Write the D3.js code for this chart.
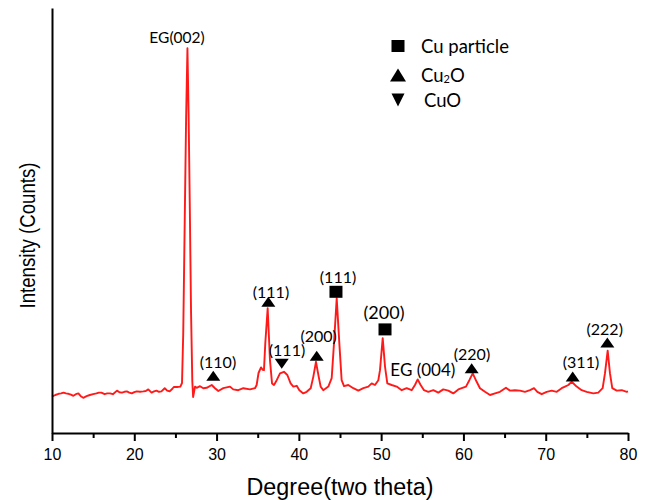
<!DOCTYPE html>
<html>
<head>
<meta charset="utf-8">
<script src="https://cdn.jsdelivr.net/npm/d3@7"></script>
<style>
  html, body { margin: 0; padding: 0; background: #ffffff; }
  svg { display: block; }
</style>
</head>
<body>
<script>
// ---- Data ----
const twoTheta = [
  10.0,10.4,10.8,11.1,11.4,11.7,12.0,12.3,12.6,12.9,13.2,13.5,13.8,14.2,14.6,15.0,15.4,15.7,16.0,16.4,
  16.7,17.05,17.4,17.9,18.2,18.5,18.8,19.1,19.4,19.7,20.0,20.3,20.7,21.1,21.4,21.7,22.1,22.4,22.7,23.0,
  23.3,23.7,24.0,24.3,24.6,24.8,25.2,25.6,25.8,25.95,26.15,26.3,26.46,26.6,26.75,26.9,27.05,27.15,27.38,27.58,
  27.99,28.39,28.8,29.41,29.81,30.21,30.82,31.63,32.03,32.64,33.25,34.06,34.67,34.87,35.1,35.4,35.6,35.76,35.92,36.21,
  36.49,36.74,36.98,37.31,37.71,38.19,38.6,39.0,39.33,39.74,40.06,40.54,40.95,41.44,41.76,42.08,42.41,42.65,42.97,43.58,
  43.99,44.27,44.6,44.92,45.2,45.49,46.01,46.62,47.23,47.84,48.44,48.85,49.25,49.66,49.86,50.19,50.47,50.75,51.28,51.89,
  52.5,53.1,53.71,54.11,54.44,54.8,55.21,55.73,56.34,56.95,57.55,58.16,58.77,59.38,59.79,60.31,60.72,61.13,61.61,62.01,
  62.62,63.23,63.84,64.44,65.17,65.66,66.27,66.87,67.48,68.09,68.58,68.98,69.51,70.12,70.73,71.34,71.94,72.34,72.75,73.16,
  73.76,74.37,74.98,75.79,76.39,76.92,77.2,77.53,77.81,78.09,78.63,79.24,79.85,80.0
];
const intensity = [
  91,95,98,99,101,99,98,96,93,97,99,92,88,92,95,97,99,101,101,97,
  99,99,97,106,102,101,103,104,101,99,102,104,103,104,105,109,101,104,106,103,
  104,112,106,104,110,115,115,116,125,250,560,790,962,800,560,300,130,90,116,113,
  117,112,113,120,112,105,112,116,109,107,112,109,112,120,150,164,158,157,224,312,
  182,124,120,132,149,153,145,124,116,118,107,99,103,112,141,178,141,116,107,116,
  137,224,337,224,132,117,120,112,106,112,116,124,120,132,157,237,166,124,120,116,
  107,112,107,120,134,120,107,103,107,101,109,106,99,109,112,116,132,149,128,112,
  103,95,99,103,113,106,107,106,103,107,112,103,97,103,106,103,112,116,120,128,
  116,107,103,99,101,112,149,206,149,112,106,107,103,104
];

const xTickValues = [10, 20, 30, 40, 50, 60, 70, 80];
const xMinorTickValues = [15, 25, 35, 45, 55, 65, 75];

// peak markers
const markerPhase  = ["Cu2O", "Cu2O", "CuO", "Cu2O", "Cu", "Cu", "Cu2O", "Cu2O", "Cu2O"];
const markerTheta  = [29.6, 36.29, 37.92, 42.17, 44.51, 50.47, 61.0, 73.28, 77.49];
const markerCounts = [143, 328, 173, 193, 353, 259, 162, 141, 226];
const peakLabel    = ["(110)", "(111)", "(111)", "(200)", "(111)", "(200)", "(220)", "(311)", "(222)"];
const labelTheta   = [30.17, 36.61, 38.56, 42.41, 44.76, 50.35, 61.04, 74.29, 77.17];
const labelCounts  = [178, 353, 208, 245, 391, 303, 199, 178, 262];

// graphite labels
const egLabel  = ["EG(002)", "EG (004)"];
const egTheta  = [25.19, 55.07];
const egCounts = [990, 158];

// legend
const legendPhase = ["Cu", "Cu2O", "CuO"];
const legendText  = ["Cu particle", "Cu2O", "CuO"];

// ---- Drawing ----
const W = 648, H = 500;
const svg = d3.select("body").append("svg").attr("width", W).attr("height", H);

const x = d3.scaleLinear().domain([10, 80]).range([52, 628]);
const y = d3.scaleLinear().domain([0, 1062.5]).range([433, 8]);

const annFont = "Lato, 'Open Sans', sans-serif";
const axFont = "'Liberation Sans', Arial, sans-serif";

// curve
const line = d3.line().x((d, i) => x(twoTheta[i])).y((d, i) => y(intensity[i]));
svg.append("path")
  .datum(intensity)
  .attr("d", line)
  .attr("fill", "none")
  .attr("stroke", "#ff1a1a")
  .attr("stroke-width", 1.9)
  .attr("stroke-linejoin", "round");

// x axis
const gx = svg.append("g").attr("transform", `translate(0,${y(0)})`)
  .call(d3.axisBottom(x).tickValues(xTickValues).tickSize(8).tickSizeOuter(0).tickPadding(8).tickFormat(d3.format("d")));
gx.select(".domain").attr("stroke", "#000").attr("stroke-width", 2);
gx.selectAll(".tick line").attr("stroke", "#000").attr("stroke-width", 2);
gx.selectAll(".tick text").attr("font-family", axFont).attr("font-size", 16).attr("fill", "#000");

const gxm = svg.append("g").attr("transform", `translate(0,${y(0)})`)
  .call(d3.axisBottom(x).tickValues(xMinorTickValues).tickSize(5).tickFormat(""));
gxm.select(".domain").remove();
gxm.selectAll(".tick line").attr("stroke", "#000").attr("stroke-width", 2);

// y axis (no ticks)
const gy = svg.append("g").attr("transform", `translate(${x(10)},0)`)
  .call(d3.axisLeft(y).tickValues([]).tickSizeOuter(0));
gy.select(".domain").attr("stroke", "#000").attr("stroke-width", 2);

// axis titles
svg.append("text")
  .attr("x", (x(10) + x(80)) / 2).attr("y", 495)
  .attr("text-anchor", "middle")
  .attr("font-family", axFont).attr("font-size", 23)
  .attr("textLength", 187).attr("lengthAdjust", "spacingAndGlyphs")
  .text("Degree(two theta)");

svg.append("text")
  .attr("transform", "translate(35,235.5) rotate(-90)")
  .attr("text-anchor", "middle")
  .attr("font-family", axFont).attr("font-size", 22)
  .attr("textLength", 146).attr("lengthAdjust", "spacingAndGlyphs")
  .text("Intensity (Counts)");

// marker shapes
function drawMarker(g, phase, cx, cy, w, h) {
  if (phase === "Cu") {
    g.append("rect").attr("x", cx - w / 2).attr("y", cy - h / 2).attr("width", w).attr("height", h).attr("fill", "#000");
  } else if (phase === "Cu2O") {
    g.append("path").attr("d", `M${cx - w / 2},${cy + h / 2}L${cx + w / 2},${cy + h / 2}L${cx},${cy - h / 2}Z`).attr("fill", "#000");
  } else {
    g.append("path").attr("d", `M${cx - w / 2},${cy - h / 2}L${cx + w / 2},${cy - h / 2}L${cx},${cy + h / 2}Z`).attr("fill", "#000");
  }
}

const gm = svg.append("g");
markerPhase.forEach((p, i) => {
  const w = p === "Cu" ? 13 : 14;
  const h = p === "Cu" ? 12 : 10;
  drawMarker(gm, p, x(markerTheta[i]), y(markerCounts[i]), w, h);
  gm.append("text")
    .attr("x", x(labelTheta[i])).attr("y", y(labelCounts[i]))
    .attr("text-anchor", "middle").attr("dominant-baseline", "central")
    .attr("font-family", annFont).attr("font-size", (p === "Cu" && peakLabel[i] === "(200)") ? 18 : 16)
    .attr("fill", "#000")
    .text(peakLabel[i]);
});

egLabel.forEach((t, i) => {
  gm.append("text")
    .attr("x", x(egTheta[i])).attr("y", y(egCounts[i]))
    .attr("text-anchor", "middle").attr("dominant-baseline", "central")
    .attr("font-family", annFont).attr("font-size", i === 1 ? 17 : 15.5)
    .attr("fill", "#000")
    .text(t);
});

// legend
const legY = [46, 75, 100];
const gl = svg.append("g");
legendPhase.forEach((p, i) => {
  const w = p === "Cu" ? 13 : (p === "Cu2O" ? 16 : 13);
  const h = p === "Cu" ? 12 : 13;
  drawMarker(gl, p, 398, legY[i], w, h);
  const t = gl.append("text")
    .attr("x", p === "CuO" ? 424 : 421).attr("y", legY[i])
    .attr("dominant-baseline", "central")
    .attr("font-family", annFont).attr("font-size", 18.5)
    .attr("fill", "#000");
  if (p === "Cu2O") {
    t.append("tspan").text("Cu");
    t.append("tspan").attr("font-size", 11).attr("dy", 3).text("2");
    t.append("tspan").attr("dy", -3).text("O");
  } else {
    t.text(legendText[i]);
  }
});
</script>
</body>
</html>
